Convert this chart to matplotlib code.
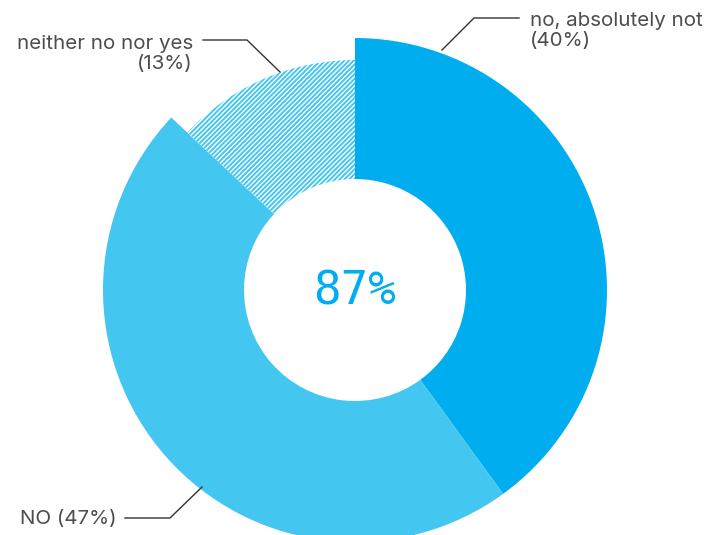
import matplotlib.pyplot as plt

# survey answers, clockwise from 12 o'clock
labels = ["no, absolutely not", "NO", "neither no nor yes"]
shares = [40, 47, 13]
center_label = "87%"

colors = ["#00aeef", "#43c6f0", "#ffffff"]

plt.rcParams["hatch.linewidth"] = 1.4

fig = plt.figure(figsize=(7.09, 5.35), dpi=100)
ax = fig.add_axes([0, 0, 1, 1])

cx, cy = 355, 245
r_out, r_in = 252, 111

wedges, _ = ax.pie(shares, colors=colors, startangle=90, counterclock=False,
                   radius=r_out, center=(cx, cy), frame=True,
                   wedgeprops=dict(width=r_out - r_in, linewidth=0))
ax.set_xlim(0, 709)
ax.set_ylim(0, 535)
ax.set_aspect("equal")
ax.axis("off")

# the undecided slice is smaller and hatched
w = wedges[2]
w.set_radius(230)
w.set_width(230 - r_in)
w.set_hatch("/" * 7)
w.set_edgecolor("#43c6f0")
w.set_linewidth(0)

ax.text(cx, cy - 2, center_label, ha="center", va="center",
        fontsize=33, color="#00aeef", family="DejaVu Sans Mono")

txt = dict(fontsize=14.8, color="#4d4d4d", family="Inter")
line = dict(color="#333333", lw=1)

# leader lines and labels
ax.plot([519, 474, 442], [517, 517, 485], **line)
ax.text(530, 504, f"{labels[0]}\n({shares[0]}%)", ha="left", va="center",
        linespacing=1.2, **txt)

ax.plot([203, 247, 280], [495, 495, 463], **line)
ax.text(193, 481, f"{labels[2]}\n({shares[2]}%)", ha="right", va="center",
        linespacing=1.2, multialignment="right", **txt)

ax.plot([125, 170, 202], [17, 17, 48], **line)
ax.text(20, 16, f"{labels[1]} ({shares[1]}%)", ha="left", va="center", **txt)

fig.savefig("out.png", dpi=100)
